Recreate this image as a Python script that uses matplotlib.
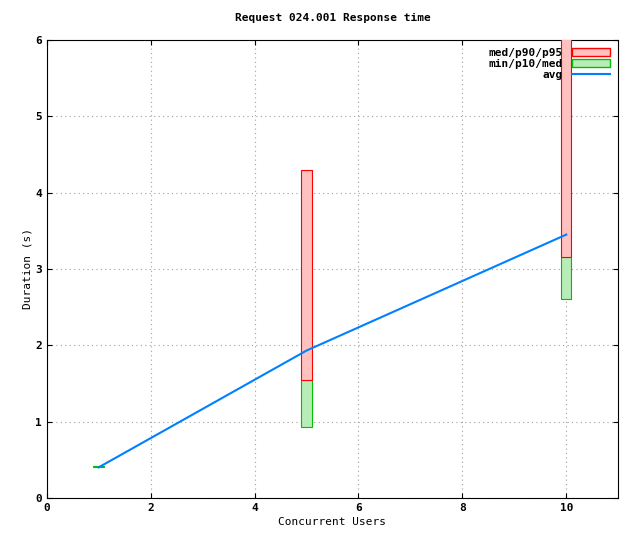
import numpy as np
import matplotlib
matplotlib.use("Agg")
import matplotlib.pyplot as plt
from matplotlib.patches import Patch
from matplotlib.lines import Line2D

users = [1, 5, 10]
p_min = [0.40, 0.93, 2.60]
p_med = [0.42, 1.55, 3.16]
p_95 = [0.42, 4.30, 6.10]
avg = [0.40, 1.93, 3.45]

plt.rcParams["font.family"] = "DejaVu Sans Mono"
plt.rcParams["font.size"] = 8
plt.rcParams["font.weight"] = "bold"

fig = plt.figure(figsize=(6.4, 5.4), dpi=100)
ax = fig.add_axes([0.073, 0.078, 0.893, 0.848])

w = 0.2
for u, lo, md, hi in zip(users, p_min, p_med, p_95):
    ax.bar(u, md - lo, bottom=lo, width=w, color="#b8ecb8", edgecolor="#00c000", lw=0.8, zorder=3)
    if hi > md:
        ax.bar(u, hi - md, bottom=md, width=w, color="#ffc0c0", edgecolor="#ff0000", lw=0.8, zorder=3)
ax.plot(users, avg, color="#0080ff", lw=1.5, zorder=4)

ax.set_xlim(0, 11)
ax.set_ylim(0, 6)
ax.set_xticks(range(0, 11, 2))
ax.set_yticks(range(0, 7))
ax.grid(True, ls=(0, (1, 3)), color="#a0a0a0", lw=0.8)
ax.tick_params(direction="in", top=True, right=True)
ax.set_xlabel("Concurrent Users", labelpad=3)
ax.set_ylabel("Duration (s)", labelpad=2)
ax.set_title("Request 024.001 Response time", fontsize=8, fontweight="bold", pad=14)

handles = [Patch(facecolor="#ffc0c0", edgecolor="#ff0000"),
           Patch(facecolor="#b8ecb8", edgecolor="#00c000"),
           Line2D([], [], color="#0080ff", lw=1.5)]
ax.legend(handles, ["med/p90/p95", "min/p10/med", "avg"], loc="upper right",
          frameon=False, markerfirst=False, handlelength=3.5, handleheight=0.7,
          labelspacing=0.1, borderaxespad=0.3, fontsize=8)

fig.savefig("out.png", dpi=100)
